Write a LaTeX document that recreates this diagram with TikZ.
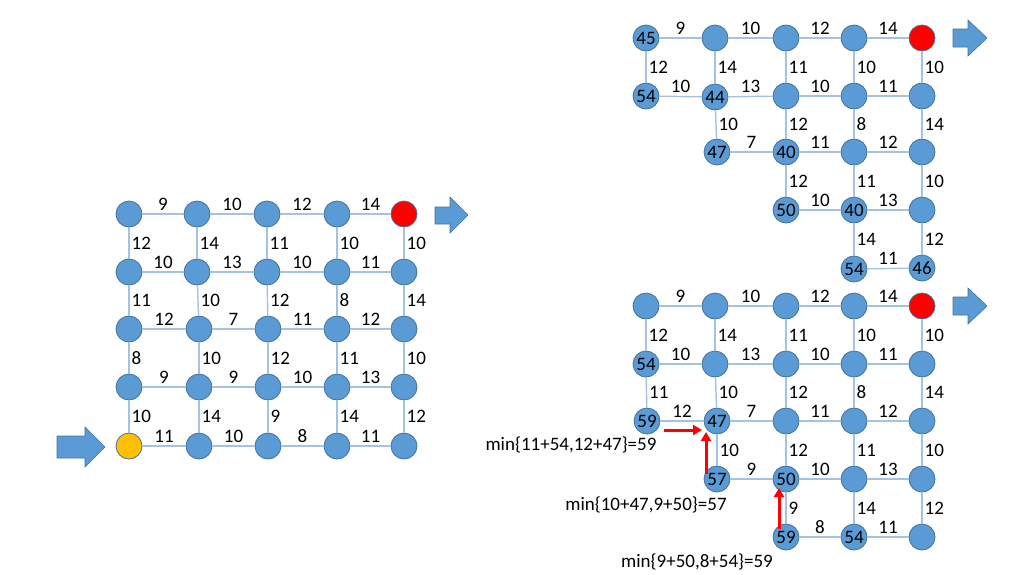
\documentclass[tikz,border=0pt]{standalone}
\usepackage{fontspec}
\setmainfont{Carlito}
\usetikzlibrary{arrows.meta}
\definecolor{nodeblue}{HTML}{5B9BD5}
\definecolor{nodeedge}{HTML}{41719C}
\definecolor{edgeblue}{HTML}{A4C2E4}
\definecolor{redfill}{HTML}{FF0000}
\definecolor{yellowfill}{HTML}{FFC000}
\newcommand\hedge[3]{\draw[edge] (#1) -- node[hlab]{#3} (#2);}
\newcommand\vedge[3]{\draw[edge] (#1) -- node[vlab]{#3} (#2);}
\begin{document}
\begin{tikzpicture}[x=1pt,y=-1pt,
  every node/.style={font=\fontsize{19}{22}\selectfont},
  vert/.style={circle,fill=nodeblue,draw=nodeedge,line width=0.8pt,minimum size=26pt,inner sep=0pt},
  redv/.style={vert,fill=redfill},
  yelv/.style={vert,fill=yellowfill},
  edge/.style={draw=edgeblue,line width=1.4pt},
  hlab/.style={anchor=south,inner sep=0pt,yshift=3pt},
  vlab/.style={anchor=west,inner sep=0pt,xshift=2pt},
  blockarrow/.style={fill=nodeblue,draw=nodeedge,line width=0.6pt,line join=miter},
  redarrow/.style={draw=redfill,line width=3pt,-{Triangle[length=9pt,width=10pt]}}
]
\useasboundingbox (0,0) rectangle (1024,574);
% ---------- left grid ----------
\node[vert] (L11) at (129,214) {};
\node[vert] (L12) at (197,214) {};
\node[vert] (L13) at (267,214) {};
\node[vert] (L14) at (337,214) {};
\node[redv] (L15) at (404,214) {};
\node[vert] (L21) at (129,272) {};
\node[vert] (L22) at (197,272) {};
\node[vert] (L23) at (267,272) {};
\node[vert] (L24) at (337,272) {};
\node[vert] (L25) at (404,272) {};
\node[vert] (L31) at (129,329) {};
\node[vert] (L32) at (199,329) {};
\node[vert] (L33) at (268,329) {};
\node[vert] (L34) at (337,329) {};
\node[vert] (L35) at (404,329) {};
\node[vert] (L41) at (129,387) {};
\node[vert] (L42) at (199,387) {};
\node[vert] (L43) at (268,387) {};
\node[vert] (L44) at (337,387) {};
\node[vert] (L45) at (404,387) {};
\node[yelv] (L51) at (129,446) {};
\node[vert] (L52) at (199,446) {};
\node[vert] (L53) at (268,446) {};
\node[vert] (L54) at (337,446) {};
\node[vert] (L55) at (404,446) {};
\hedge{L11}{L12}{9}\hedge{L12}{L13}{10}\hedge{L13}{L14}{12}\hedge{L14}{L15}{14}
\vedge{L11}{L21}{12}\vedge{L12}{L22}{14}\vedge{L13}{L23}{11}\vedge{L14}{L24}{10}\vedge{L15}{L25}{10}
\hedge{L21}{L22}{10}\hedge{L22}{L23}{13}\hedge{L23}{L24}{10}\hedge{L24}{L25}{11}
\vedge{L21}{L31}{11}\vedge{L22}{L32}{10}\vedge{L23}{L33}{12}\vedge{L24}{L34}{8}\vedge{L25}{L35}{14}
\hedge{L31}{L32}{12}\hedge{L32}{L33}{7}\hedge{L33}{L34}{11}\hedge{L34}{L35}{12}
\vedge{L31}{L41}{8}\vedge{L32}{L42}{10}\vedge{L33}{L43}{12}\vedge{L34}{L44}{11}\vedge{L35}{L45}{10}
\hedge{L41}{L42}{9}\hedge{L42}{L43}{9}\hedge{L43}{L44}{10}\hedge{L44}{L45}{13}
\vedge{L41}{L51}{10}\vedge{L42}{L52}{14}\vedge{L43}{L53}{9}\vedge{L44}{L54}{14}\vedge{L45}{L55}{12}
\hedge{L51}{L52}{11}\hedge{L52}{L53}{10}\hedge{L53}{L54}{8}\hedge{L54}{L55}{11}
% block arrows of left grid
\draw[blockarrow] (57,436) -- (85,436) -- (85,427) -- (105,447) -- (85,467) -- (85,458) -- (57,458) -- cycle;
\draw[blockarrow] (435,207) -- (450,207) -- (450,197) -- (468,215) -- (450,233) -- (450,224) -- (435,224) -- cycle;
% ---------- top right grid ----------
\node[vert] (T11) at (646,38) {45};
\node[vert] (T12) at (715,38) {};
\node[vert] (T13) at (786,38) {};
\node[vert] (T14) at (854,38) {};
\node[redv] (T15) at (922,38) {};
\node[vert] (T21) at (646,96) {54};
\node[vert] (T22) at (715,97) {44};
\node[vert] (T23) at (786,96) {};
\node[vert] (T24) at (854,96) {};
\node[vert] (T25) at (922,96) {};
\node[vert] (T32) at (717,152) {47};
\node[vert] (T33) at (786,152) {40};
\node[vert] (T34) at (854,152) {};
\node[vert] (T35) at (922,152) {};
\node[vert] (T43) at (786,210) {50};
\node[vert] (T44) at (854,210) {40};
\node[vert] (T45) at (922,210) {};
\node[vert] (T54) at (854,269) {54};
\node[vert] (T55) at (922,268) {46};
\hedge{T11}{T12}{9}\hedge{T12}{T13}{10}\hedge{T13}{T14}{12}\hedge{T14}{T15}{14}
\vedge{T11}{T21}{12}\vedge{T12}{T22}{14}\vedge{T13}{T23}{11}\vedge{T14}{T24}{10}\vedge{T15}{T25}{10}
\hedge{T21}{T22}{10}\hedge{T22}{T23}{13}\hedge{T23}{T24}{10}\hedge{T24}{T25}{11}
\vedge{T22}{T32}{10}\vedge{T23}{T33}{12}\vedge{T24}{T34}{8}\vedge{T25}{T35}{14}
\hedge{T32}{T33}{7}\hedge{T33}{T34}{11}\hedge{T34}{T35}{12}
\vedge{T33}{T43}{12}\vedge{T34}{T44}{11}\vedge{T35}{T45}{10}
\hedge{T43}{T44}{10}\hedge{T44}{T45}{13}
\vedge{T44}{T54}{14}\vedge{T45}{T55}{12}
\hedge{T54}{T55}{11}
\draw[blockarrow] (953,29) -- (968,29) -- (968,20) -- (987,38) -- (968,56) -- (968,47) -- (953,47) -- cycle;
% ---------- bottom right grid ----------
\node[vert] (B11) at (646,306) {};
\node[vert] (B12) at (715,306) {};
\node[vert] (B13) at (786,306) {};
\node[vert] (B14) at (854,306) {};
\node[redv] (B15) at (922,306) {};
\node[vert] (B21) at (646,364) {54};
\node[vert] (B22) at (715,364) {};
\node[vert] (B23) at (786,364) {};
\node[vert] (B24) at (854,364) {};
\node[vert] (B25) at (922,364) {};
\node[vert] (B31) at (647,421) {59};
\node[vert] (B32) at (717,421) {47};
\node[vert] (B33) at (786,421) {};
\node[vert] (B34) at (854,421) {};
\node[vert] (B35) at (922,421) {};
\node[vert] (B42) at (717,479) {57};
\node[vert] (B43) at (786,479) {50};
\node[vert] (B44) at (854,479) {};
\node[vert] (B45) at (922,479) {};
\node[vert] (B53) at (786,537) {59};
\node[vert] (B54) at (854,537) {54};
\node[vert] (B55) at (922,537) {};
\hedge{B11}{B12}{9}\hedge{B12}{B13}{10}\hedge{B13}{B14}{12}\hedge{B14}{B15}{14}
\vedge{B11}{B21}{12}\vedge{B12}{B22}{14}\vedge{B13}{B23}{11}\vedge{B14}{B24}{10}\vedge{B15}{B25}{10}
\hedge{B21}{B22}{10}\hedge{B22}{B23}{13}\hedge{B23}{B24}{10}\hedge{B24}{B25}{11}
\vedge{B21}{B31}{11}\vedge{B22}{B32}{10}\vedge{B23}{B33}{12}\vedge{B24}{B34}{8}\vedge{B25}{B35}{14}
\hedge{B31}{B32}{12}\hedge{B32}{B33}{7}\hedge{B33}{B34}{11}\hedge{B34}{B35}{12}
\vedge{B32}{B42}{10}\vedge{B33}{B43}{12}\vedge{B34}{B44}{11}\vedge{B35}{B45}{10}
\hedge{B42}{B43}{9}\hedge{B43}{B44}{10}\hedge{B44}{B45}{13}
\vedge{B43}{B53}{9}\vedge{B44}{B54}{14}\vedge{B45}{B55}{12}
\hedge{B53}{B54}{8}\hedge{B54}{B55}{11}
\draw[blockarrow] (953,297) -- (968,297) -- (968,288) -- (987,306) -- (968,324) -- (968,315) -- (953,315) -- cycle;
% red arrows and annotations
\coordinate (r1s) at (664,430);
\coordinate (r1e) at (702,430);
\coordinate (r2s) at (706,474);
\coordinate (r2e) at (706,432);
\coordinate (r3s) at (779,529);
\coordinate (r3e) at (779,488);
\draw[redarrow] (r1s) -- (r1e);
\draw[redarrow] (r2s) -- (r2e);
\draw[redarrow] (r3s) -- (r3e);
\node (m1) at (571,445) {min\{11+54,12+47\}=59};
\node (m2) at (646,505) {min\{10+47,9+50\}=57};
\node (m3) at (697,562) {min\{9+50,8+54\}=59};
\end{tikzpicture}
\end{document}
